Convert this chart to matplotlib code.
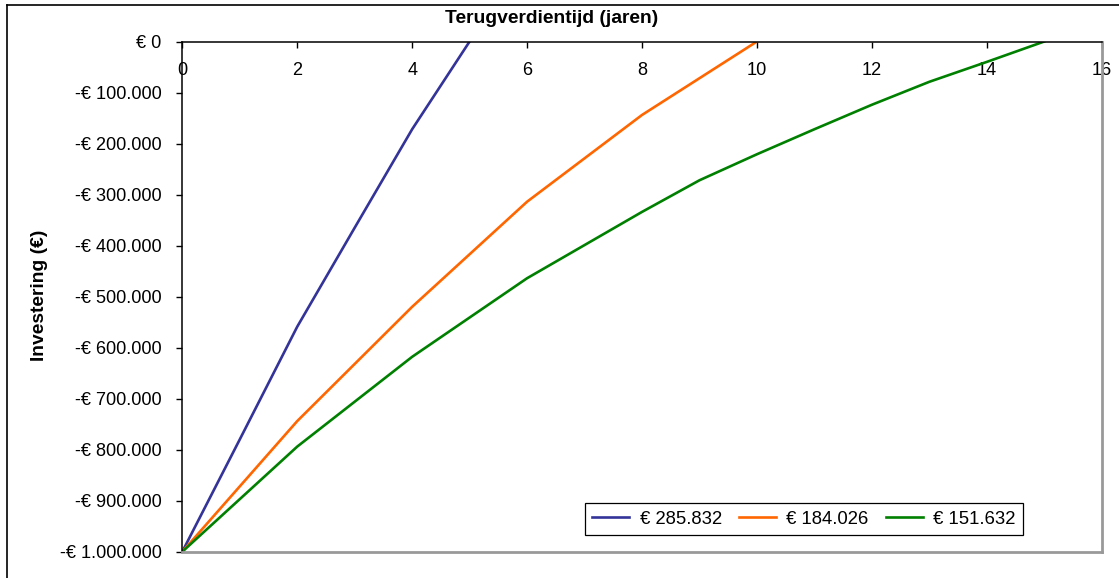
import matplotlib
matplotlib.use("Agg")
import matplotlib.pyplot as plt
from matplotlib.lines import Line2D

plt.rcParams["font.family"] = ["Liberation Sans", "DejaVu Sans"]

# Cumulative investment position per year for three annual-return scenarios
years_a = [0, 1, 2, 3, 4, 5]
invest_a = [-1000000, -780000, -559000, -365000, -172000, 0]

years_b = [0, 1, 2, 3, 4, 5, 6, 7, 8, 9, 10]
invest_b = [-1000000, -872000, -744000, -632000, -520000, -417000,
            -314000, -229000, -144000, -72000, 0]

years_c = [0, 1, 2, 3, 4, 5, 6, 7, 8, 9, 10, 11, 12, 13, 14, 15]
invest_c = [-1000000, -897000, -794000, -706000, -618000, -541000,
            -464000, -399000, -334000, -272000, -221000, -172000,
            -124000, -79000, -40000, 0]

series_labels = ["€ 285.832", "€ 184.026", "€ 151.632"]
series_colors = ["#333399", "#FF6600", "#008000"]

x_ticks = [0, 2, 4, 6, 8, 10, 12, 14, 16]
y_ticks = [0, -100000, -200000, -300000, -400000, -500000,
           -600000, -700000, -800000, -900000, -1000000]
y_tick_labels = ["€ 0", "-€ 100.000", "-€ 200.000", "-€ 300.000", "-€ 400.000",
                 "-€ 500.000", "-€ 600.000", "-€ 700.000", "-€ 800.000",
                 "-€ 900.000", "-€ 1.000.000"]

W, H = 1119, 578
fig = plt.figure(figsize=(W / 100, H / 100), dpi=100)
ax = fig.add_axes([182.3 / W, 1 - 551.7 / H, (1101.7 - 182.3) / W, (551.7 - 41.5) / H])

for xs, ys, lab, col in zip([years_a, years_b, years_c],
                            [invest_a, invest_b, invest_c],
                            series_labels, series_colors):
    ax.plot(xs, ys, color=col, linewidth=1.9, label=lab, solid_joinstyle="round")

ax.set_xlim(0, 16)
ax.set_ylim(-1000000, 0)
ax.set_xticks(x_ticks)
ax.set_xticklabels([str(t) for t in x_ticks])
ax.set_yticks(y_ticks)
ax.set_yticklabels(y_tick_labels)

# x axis sits at y = 0 (top edge), labels hang below it
ax.spines["bottom"].set_position(("data", 0))
ax.spines["bottom"].set_linewidth(1.1)
ax.spines["left"].set_linewidth(1.1)
ax.spines["top"].set_position(("data", -1000000))
ax.spines["top"].set_color("#999999")
ax.spines["top"].set_linewidth(2)
ax.spines["right"].set_color("#999999")
ax.spines["right"].set_linewidth(2)

ax.tick_params(axis="x", direction="out", length=4.3, width=1, pad=10.5,
               labelsize=13.1, top=False)
ax.tick_params(axis="y", direction="out", length=4.3, width=1, pad=10.5,
               labelsize=13.1, right=False)

fig.text(552 / W, 1 - 18.5 / H, "Terugverdientijd (jaren)", ha="center", va="center",
         fontsize=13.9, fontweight="bold")
fig.text(40 / W, 1 - 295 / H, "Investering (€)", ha="center", va="center",
         rotation=90, fontsize=13.9, fontweight="bold")

leg = ax.legend(loc="center", bbox_to_anchor=(804 / W, 1 - 519 / H),
                bbox_transform=fig.transFigure, ncol=3, fontsize=13.3,
                frameon=True, fancybox=False, framealpha=1, edgecolor="black",
                handlelength=2.0, handletextpad=0.55, columnspacing=0.95,
                borderpad=0.4, borderaxespad=0)
leg.get_frame().set_linewidth(0.9)

# outer chart frame
fig.add_artist(Line2D([6.5 / W, 6.5 / W], [0, 1 - 4.5 / H], color="black",
                      linewidth=1.2, transform=fig.transFigure))
fig.add_artist(Line2D([6.5 / W, 1], [1 - 4.5 / H, 1 - 4.5 / H], color="black",
                      linewidth=1.2, transform=fig.transFigure))

fig.savefig("out.png", dpi=100)
